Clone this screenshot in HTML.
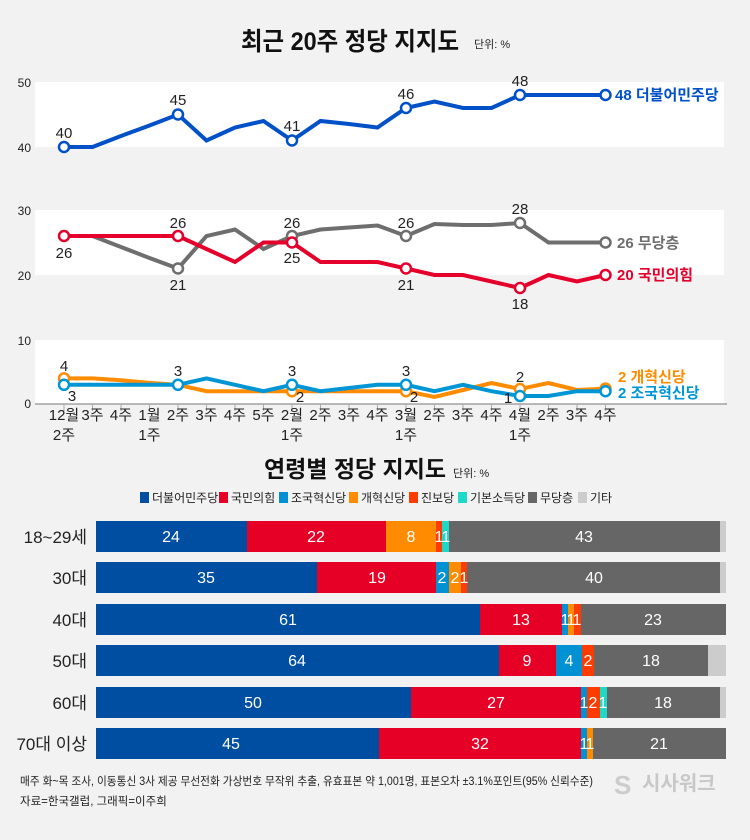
<!DOCTYPE html><html><head><meta charset="utf-8"><style>
body{margin:0;background:#f2f2f2;}
svg{display:block;font-family:"Liberation Sans","Noto Sans CJK KR",sans-serif;}
</style></head><body>
<svg width="750" height="840" viewBox="0 0 750 840">
<rect width="750" height="840" fill="#f2f2f2"/>
<text x="350" y="50" font-size="25" font-weight="bold" text-anchor="middle" fill="#111" textLength="218" lengthAdjust="spacingAndGlyphs">최근 20주 정당 지지도</text>
<text x="474" y="48" font-size="11" fill="#222">단위: %</text>
<rect x="35" y="82" width="689" height="65" fill="#fff"/>
<rect x="35" y="210" width="689" height="65" fill="#fff"/>
<rect x="35" y="340" width="689" height="64" fill="#fff"/>
<g font-size="12" fill="#222" text-anchor="end">
<text x="31" y="87">50</text><text x="31" y="152">40</text><text x="31" y="215">30</text><text x="31" y="280">20</text><text x="31" y="345">10</text><text x="31" y="408">0</text>
</g>
<line x1="35" y1="404" x2="727" y2="404" stroke="#777" stroke-width="1"/>
<g stroke="#aaa" stroke-width="1">
<line x1="64" y1="404" x2="64" y2="411"/><line x1="92.5" y1="404" x2="92.5" y2="411"/><line x1="121" y1="404" x2="121" y2="411"/><line x1="149.5" y1="404" x2="149.5" y2="411"/><line x1="178" y1="404" x2="178" y2="411"/><line x1="206.5" y1="404" x2="206.5" y2="411"/><line x1="235" y1="404" x2="235" y2="411"/><line x1="263.5" y1="404" x2="263.5" y2="411"/><line x1="292" y1="404" x2="292" y2="411"/><line x1="320.5" y1="404" x2="320.5" y2="411"/><line x1="349" y1="404" x2="349" y2="411"/><line x1="377.5" y1="404" x2="377.5" y2="411"/><line x1="406" y1="404" x2="406" y2="411"/><line x1="434.5" y1="404" x2="434.5" y2="411"/><line x1="463" y1="404" x2="463" y2="411"/><line x1="491.5" y1="404" x2="491.5" y2="411"/><line x1="520" y1="404" x2="520" y2="411"/><line x1="548.5" y1="404" x2="548.5" y2="411"/><line x1="577" y1="404" x2="577" y2="411"/><line x1="605.5" y1="404" x2="605.5" y2="411"/>
</g>
<g font-size="15" fill="#222" text-anchor="middle">
<text x="64" y="420">12월</text><text x="64" y="440">2주</text>
<text x="92.5" y="420">3주</text><text x="121" y="420">4주</text>
<text x="149.5" y="420">1월</text><text x="149.5" y="440">1주</text>
<text x="178" y="420">2주</text><text x="206.5" y="420">3주</text><text x="235" y="420">4주</text><text x="263.5" y="420">5주</text>
<text x="292" y="420">2월</text><text x="292" y="440">1주</text>
<text x="320.5" y="420">2주</text><text x="349" y="420">3주</text><text x="377.5" y="420">4주</text>
<text x="406" y="420">3월</text><text x="406" y="440">1주</text>
<text x="434.5" y="420">2주</text><text x="463" y="420">3주</text><text x="491.5" y="420">4주</text>
<text x="520" y="420">4월</text><text x="520" y="440">1주</text>
<text x="548.5" y="420">2주</text><text x="577" y="420">3주</text><text x="605.5" y="420">4주</text>
</g>
<g fill="none" stroke-width="4" stroke-linejoin="miter">
<polyline stroke="#0050c8" points="64,147 92.5,147 121,136 149.5,125.5 178,114.5 206.5,140.5 235,127.5 263.5,121 292,140.5 320.5,121 349,124 377.5,127.5 406,108 434.5,101.5 463,108 491.5,108 520,95 548.5,95 577,95 605.5,95"/>
<polyline stroke="#6e6e6e" points="64,236 92.5,236 121,247 149.5,258 178,268.5 206.5,236 235,229.5 263.5,249 292,236 320.5,229.5 349,227.5 377.5,225.5 406,236 434.5,224 463,225 491.5,225 520,223 548.5,242.5 577,242.5 605.5,242.5"/>
<polyline stroke="#e4002b" points="64,236 92.5,236 121,236 149.5,236 178,236 206.5,249 235,262 263.5,242.5 292,242.5 320.5,262 349,262 377.5,262 406,268.5 434.5,275 463,275 491.5,281.5 520,288 548.5,275 577,281.5 605.5,275"/>
<polyline stroke="#ff8c00" points="64,378.4 92.5,378.4 121,380.3 149.5,382.9 178,384.8 206.5,391.2 235,391.2 263.5,391.2 292,391.2 320.5,391.2 349,391.2 377.5,391.2 406,391.2 434.5,397 463,390 491.5,383 520,389 548.5,383 577,390 605.5,388.6"/>
<polyline stroke="#0096d6" points="64,384.8 92.5,384.8 121,384.8 149.5,384.8 178,384.8 206.5,378.4 235,384.8 263.5,391.2 292,384.8 320.5,391.2 349,388 377.5,384.8 406,384.8 434.5,391.2 463,384.8 491.5,391.2 520,396 548.5,396 577,391.2 605.5,391.2"/>
</g>
<g fill="#fff" stroke-width="2.5">
<g stroke="#0050c8"><circle cx="64" cy="147" r="5"/><circle cx="178" cy="114.5" r="5"/><circle cx="292" cy="140.5" r="5"/><circle cx="406" cy="108" r="5"/><circle cx="520" cy="95" r="5"/><circle cx="605.5" cy="95" r="5"/></g>
<g stroke="#6e6e6e"><circle cx="178" cy="268.5" r="5"/><circle cx="292" cy="236" r="5"/><circle cx="406" cy="236" r="5"/><circle cx="520" cy="223" r="5"/><circle cx="605.5" cy="242.5" r="5"/></g>
<g stroke="#e4002b"><circle cx="64" cy="236" r="5"/><circle cx="178" cy="236" r="5"/><circle cx="292" cy="242.5" r="5"/><circle cx="406" cy="268.5" r="5"/><circle cx="520" cy="288" r="5"/><circle cx="605.5" cy="275" r="5"/></g>
<g stroke="#ff8c00"><circle cx="64" cy="378.4" r="5"/><circle cx="292" cy="391.2" r="5"/><circle cx="406" cy="391.2" r="5"/><circle cx="520" cy="389" r="5"/><circle cx="605.5" cy="388.6" r="5"/></g>
<g stroke="#0096d6"><circle cx="64" cy="384.8" r="5"/><circle cx="178" cy="384.8" r="5"/><circle cx="292" cy="384.8" r="5"/><circle cx="406" cy="384.8" r="5"/><circle cx="520" cy="396" r="5"/><circle cx="605.5" cy="391.2" r="5"/></g>
</g>
<g font-size="15" fill="#222" text-anchor="middle">
<text x="64" y="138">40</text><text x="178" y="105">45</text><text x="292" y="131">41</text><text x="406" y="99">46</text><text x="520" y="86">48</text>
<text x="64" y="258">26</text><text x="178" y="228">26</text><text x="178" y="290">21</text>
<text x="292" y="228">26</text><text x="292" y="263">25</text>
<text x="406" y="228">26</text><text x="406" y="290">21</text>
<text x="520" y="214">28</text><text x="520" y="309">18</text>
<text x="64" y="371">4</text><text x="72" y="401">3</text><text x="178" y="376">3</text>
<text x="292" y="376">3</text><text x="300" y="402">2</text>
<text x="406" y="376">3</text><text x="414" y="402">2</text>
<text x="520" y="382">2</text><text x="508" y="403">1</text>
</g>
<g font-size="15" font-weight="bold">
<text x="615" y="100" fill="#0050c8">48 더불어민주당</text>
<text x="617" y="248" fill="#6e6e6e">26 무당층</text>
<text x="617" y="280" fill="#e4002b">20 국민의힘</text>
<text x="618" y="382" fill="#ff8c00">2  개혁신당</text>
<text x="618" y="398" fill="#0096d6">2  조국혁신당</text>
</g>
<text x="355" y="477" font-size="23" font-weight="bold" text-anchor="middle" fill="#111">연령별 정당 지지도</text>
<text x="453" y="477" font-size="11" fill="#222">단위: %</text>
<g font-size="12" fill="#222">
<rect x="140" y="492" width="9" height="11" fill="#004ea2"/><text x="152" y="502">더불어민주당</text>
<rect x="219" y="492" width="9" height="11" fill="#e60026"/><text x="231" y="502">국민의힘</text>
<rect x="279" y="492" width="9" height="11" fill="#0090d4"/><text x="291" y="502">조국혁신당</text>
<rect x="349" y="492" width="9" height="11" fill="#ff8c00"/><text x="361" y="502">개혁신당</text>
<rect x="409" y="492" width="9" height="11" fill="#ff3c00"/><text x="421" y="502">진보당</text>
<rect x="458" y="492" width="9" height="11" fill="#1ed8c8"/><text x="470" y="502">기본소득당</text>
<rect x="528" y="492" width="9" height="11" fill="#666"/><text x="540" y="502">무당층</text>
<rect x="578" y="492" width="9" height="11" fill="#ccc"/><text x="590" y="502">기타</text>
</g>
<g font-size="17" fill="#222" text-anchor="end">
<text x="87" y="543">18~29세</text><text x="87" y="584">30대</text><text x="87" y="626">40대</text><text x="87" y="667">50대</text><text x="87" y="709">60대</text><text x="87" y="750">70대 이상</text>
</g>
<g font-size="16" fill="#fff" text-anchor="middle">
<rect x="96" y="521" width="151" height="31" fill="#004ea2"/><rect x="247" y="521" width="139" height="31" fill="#e60026"/><rect x="386" y="521" width="50" height="31" fill="#ff8c00"/><rect x="436" y="521" width="6" height="31" fill="#ff3c00"/><rect x="442" y="521" width="7" height="31" fill="#1ed8c8"/><rect x="449" y="521" width="271" height="31" fill="#666"/><rect x="720" y="521" width="6" height="31" fill="#ccc"/>
<text x="171" y="542">24</text><text x="316" y="542">22</text><text x="411" y="542">8</text><text x="439" y="542">1</text><text x="446" y="542">1</text><text x="584" y="542">43</text>
<rect x="96" y="562" width="221" height="31" fill="#004ea2"/><rect x="317" y="562" width="119" height="31" fill="#e60026"/><rect x="436" y="562" width="13" height="31" fill="#0090d4"/><rect x="449" y="562" width="12" height="31" fill="#ff8c00"/><rect x="461" y="562" width="6" height="31" fill="#ff3c00"/><rect x="467" y="562" width="253" height="31" fill="#666"/><rect x="720" y="562" width="6" height="31" fill="#ccc"/>
<text x="206" y="583">35</text><text x="377" y="583">19</text><text x="442" y="583">2</text><text x="455" y="583">2</text><text x="464" y="583">1</text><text x="594" y="583">40</text>
<rect x="96" y="604" width="384" height="31" fill="#004ea2"/><rect x="480" y="604" width="82" height="31" fill="#e60026"/><rect x="562" y="604" width="6" height="31" fill="#0090d4"/><rect x="568" y="604" width="6" height="31" fill="#ff8c00"/><rect x="574" y="604" width="7" height="31" fill="#ff3c00"/><rect x="581" y="604" width="145" height="31" fill="#666"/>
<text x="288" y="625">61</text><text x="521" y="625">13</text><text x="565" y="625">1</text><text x="571" y="625">1</text><text x="577" y="625">1</text><text x="653" y="625">23</text>
<rect x="96" y="645" width="403" height="31" fill="#004ea2"/><rect x="499" y="645" width="57" height="31" fill="#e60026"/><rect x="556" y="645" width="26" height="31" fill="#0090d4"/><rect x="582" y="645" width="12" height="31" fill="#ff3c00"/><rect x="594" y="645" width="114" height="31" fill="#666"/><rect x="708" y="645" width="18" height="31" fill="#ccc"/>
<text x="297" y="666">64</text><text x="527" y="666">9</text><text x="569" y="666">4</text><text x="588" y="666">2</text><text x="651" y="666">18</text>
<rect x="96" y="687" width="315" height="31" fill="#004ea2"/><rect x="411" y="687" width="170" height="31" fill="#e60026"/><rect x="581" y="687" width="6" height="31" fill="#0090d4"/><rect x="587" y="687" width="13" height="31" fill="#ff3c00"/><rect x="600" y="687" width="7" height="31" fill="#1ed8c8"/><rect x="607" y="687" width="113" height="31" fill="#666"/><rect x="720" y="687" width="6" height="31" fill="#ccc"/>
<text x="253" y="708">50</text><text x="496" y="708">27</text><text x="584" y="708">1</text><text x="593" y="708">2</text><text x="603" y="708">1</text><text x="663" y="708">18</text>
<rect x="96" y="728" width="283" height="31" fill="#004ea2"/><rect x="379" y="728" width="202" height="31" fill="#e60026"/><rect x="581" y="728" width="6" height="31" fill="#0090d4"/><rect x="587" y="728" width="6" height="31" fill="#ff8c00"/><rect x="593" y="728" width="133" height="31" fill="#666"/>
<text x="231" y="749">45</text><text x="480" y="749">32</text><text x="584" y="749">1</text><text x="590" y="749">1</text><text x="659" y="749">21</text>
</g>
<g font-size="11.5" fill="#222">
<text x="20" y="785" textLength="573" lengthAdjust="spacingAndGlyphs">매주 화~목 조사, 이동통신 3사 제공 무선전화 가상번호 무작위 추출, 유효표본 약 1,001명, 표본오차 ±3.1%포인트(95% 신뢰수준)</text>
<text x="20" y="805">자료=한국갤럽, 그래픽=이주희</text>
</g>
<text x="614" y="794" font-size="26" font-weight="bold" fill="#ccc">S</text>
<text x="642" y="790" font-size="20" font-weight="bold" fill="#c8c8c8">시사워크</text>
</svg>
</body></html>
